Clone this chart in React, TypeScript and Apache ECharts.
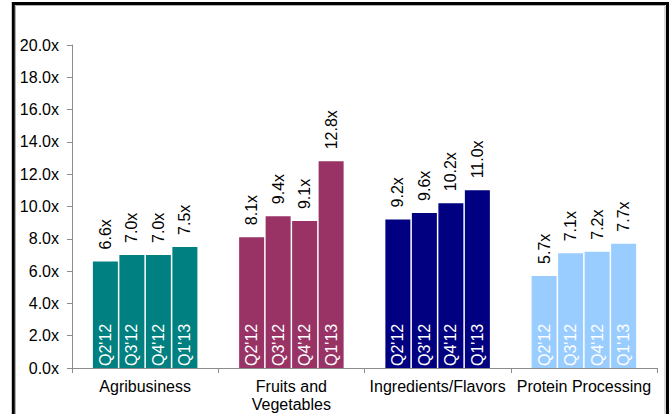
import React, { useEffect, useRef } from "react";
import * as echarts from "echarts";

const categories = ["Agribusiness", "Fruits and\nVegetables", "Ingredients/Flavors", "Protein Processing"];
const quarters = ["Q2'12", "Q3'12", "Q4'12", "Q1'13"];
const q2_12 = [6.6, 8.1, 9.2, 5.7];
const q3_12 = [7.0, 9.4, 9.6, 7.1];
const q4_12 = [7.0, 9.1, 10.2, 7.2];
const q1_13 = [7.5, 12.8, 11.0, 7.7];
const seriesValues = [q2_12, q3_12, q4_12, q1_13];
const categoryColors = ["#008080", "#993366", "#000080", "#99CCFF"];
const yTicks = { min: 0, max: 20, interval: 2 };

const FONT = "'Liberation Sans', Arial, sans-serif";
const AXIS_GRAY = "#8c8c8c";

export default function App() {
  const ref = useRef<HTMLDivElement>(null);

  useEffect(() => {
    if (!ref.current) return;
    const chart = echarts.init(ref.current, undefined, { renderer: "svg" });

    const barCommon = {
      type: "bar" as const,
      barWidth: 25,
      barGap: "6%",
    };

    const valueSeries = seriesValues.map((vals, si) => ({
      ...barCommon,
      name: quarters[si],
      xAxisIndex: 0,
      yAxisIndex: 0,
      data: vals.map((v, ci) => ({ value: v, itemStyle: { color: categoryColors[ci] } })),
      label: {
        show: true,
        position: "top",
        distance: 12,
        rotate: 90,
        align: "left",
        verticalAlign: "middle",
        fontFamily: FONT,
        fontSize: 16,
        color: "#000",
        formatter: (p: any) => `${Number(p.value).toFixed(1)}x`,
      },
      z: 2,
    }));

    const nameSeries = seriesValues.map((vals, si) => ({
      ...barCommon,
      name: quarters[si] + " label",
      xAxisIndex: 1,
      yAxisIndex: 0,
      data: vals.map((v) => ({ value: v })),
      itemStyle: { color: "rgba(0,0,0,0)" },
      label: {
        show: true,
        position: "insideBottom",
        distance: 2,
        rotate: 90,
        align: "left",
        verticalAlign: "middle",
        fontFamily: FONT,
        fontSize: 16,
        color: "#ffffff",
        formatter: () => quarters[si],
      },
      z: 3,
      silent: true,
    }));

    chart.setOption({
      animation: false,
      backgroundColor: "#ffffff",
      textStyle: { fontFamily: FONT },
      grid: { left: 72, right: 13, top: 45, bottom: 46, containLabel: false },
      xAxis: [
        {
          type: "category",
          data: categories,
          axisLine: { show: true, lineStyle: { color: AXIS_GRAY, width: 1 } },
          axisTick: { show: true, length: 5, lineStyle: { color: AXIS_GRAY } },
          axisLabel: {
            fontFamily: FONT,
            fontSize: 16,
            color: "#000",
            margin: 9,
            lineHeight: 18,
            interval: 0,
          },
          splitLine: { show: false },
        },
        {
          type: "category",
          data: categories,
          show: false,
        },
      ],
      yAxis: {
        type: "value",
        min: yTicks.min,
        max: yTicks.max,
        interval: yTicks.interval,
        axisLine: { show: true, lineStyle: { color: AXIS_GRAY, width: 1 } },
        axisTick: { show: true, length: 5, lineStyle: { color: AXIS_GRAY } },
        axisLabel: {
          fontFamily: FONT,
          fontSize: 16,
          color: "#000",
          margin: 13,
          formatter: (v: number) => `${v.toFixed(1)}x`,
        },
        splitLine: { show: false },
      },
      graphic: [
        {
          type: "rect",
          shape: { x: 13.3, y: 3.5, width: 654.2, height: 420 },
          style: { fill: "none", stroke: "#000", lineWidth: 3 },
          silent: true,
          z: 100,
        },
        {
          type: "rect",
          shape: { x: 15.5, y: 5.5, width: 649.5, height: 420 },
          style: { fill: "none", stroke: "#b0b0b0", lineWidth: 1 },
          silent: true,
          z: 100,
        },
      ],
      series: [...valueSeries, ...nameSeries],
    });

    return () => chart.dispose();
  }, []);

  return (
    <div
      ref={ref}
      style={{ position: "fixed", left: 0, top: 0, width: 670, height: 414 }}
    />
  );
}
